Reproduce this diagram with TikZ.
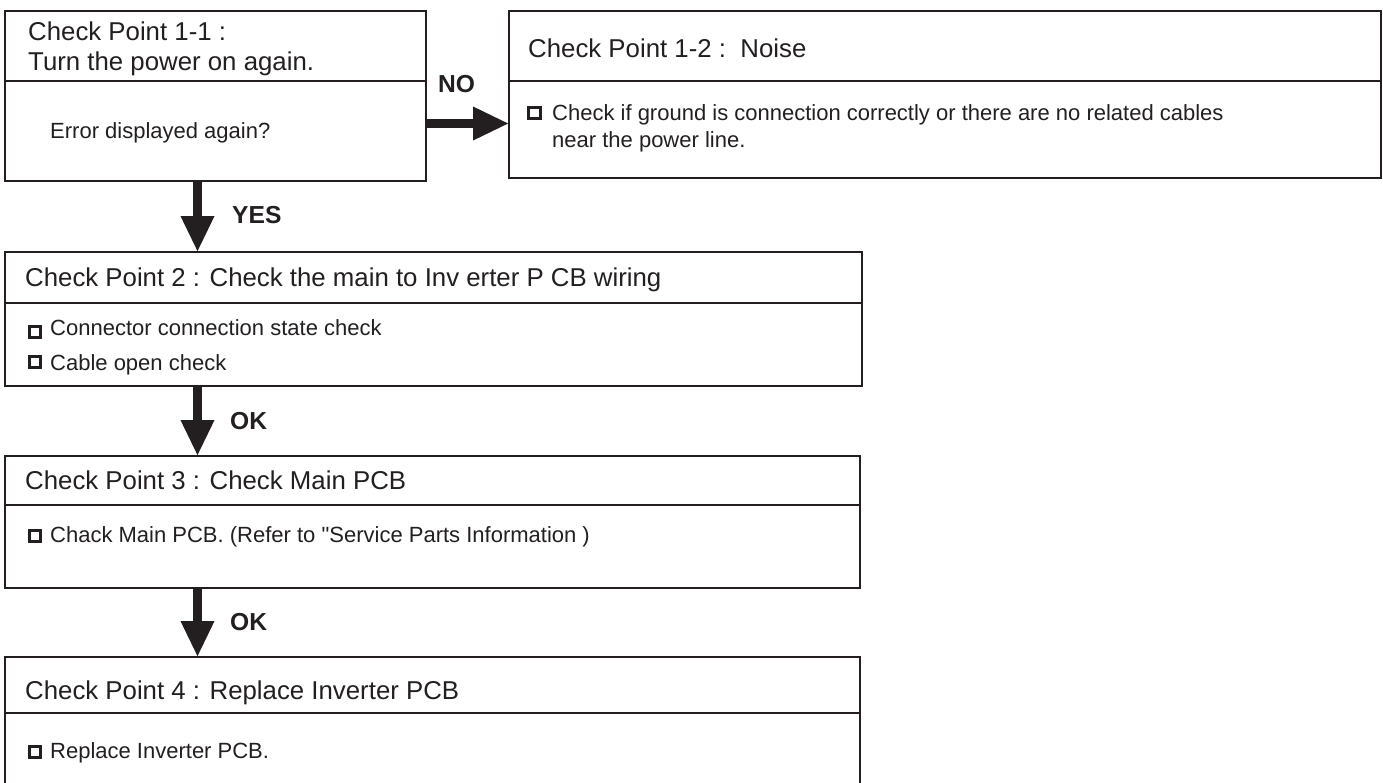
\documentclass[tikz,border=0pt]{standalone}
\usepackage{fontspec}
\setmainfont{Liberation Sans}[Ligatures=TeXOff]
\usetikzlibrary{arrows.meta}
\definecolor{ink}{HTML}{231F20}
\tikzset{
  box/.style={draw=ink, line width=1.8pt, rectangle, inner sep=0pt},
  divider/.style={draw=ink, line width=1.8pt},
  head/.style={anchor=base west, inner sep=0pt, text=ink, font=\fontsize{25.8}{30}\selectfont},
  body/.style={anchor=base west, inner sep=0pt, text=ink, font=\fontsize{22}{26}\selectfont},
  lab/.style={anchor=base west, inner sep=0pt, text=ink, font=\fontsize{24.6}{28}\selectfont\bfseries},
  chk/.style={draw=ink, line width=3pt, rectangle, minimum width=11.5pt, minimum height=11pt, inner sep=0pt},
  flow/.style={draw=ink, line width=8.5pt, -{Triangle[length=35pt, width=34pt, line width=0pt]}, color=ink}
}
\begin{document}
\begin{tikzpicture}[x=1pt, y=-1pt]
\useasboundingbox (0,0) rectangle (1383,782);
% boxes
\node[box, minimum width=421pt, minimum height=170pt] (b1) at (215.5,96) {};
\node[box, minimum width=872pt, minimum height=167pt] (b12) at (945,94.5) {};
\node[box, minimum width=857pt, minimum height=134pt] (b2) at (433.5,319) {};
\node[box, minimum width=855pt, minimum height=132pt] (b3) at (432.5,522) {};
\node[box, minimum width=855pt, minimum height=140pt] (b4) at (432.5,727) {};
% dividers
\coordinate (d1) at (0,81);
\coordinate (d2) at (0,303);
\coordinate (d3) at (0,505);
\coordinate (d4) at (0,713);
\draw[divider] (b1.west |- d1) -- (b1.east |- d1);
\draw[divider] (b12.west |- d1) -- (b12.east |- d1);
\draw[divider] (b2.west |- d2) -- (b2.east |- d2);
\draw[divider] (b3.west |- d3) -- (b3.east |- d3);
\draw[divider] (b4.west |- d4) -- (b4.east |- d4);
% box 1
\node[head] (t1a) at (28,40) {Check Point 1-1 :};
\node[head] (t1b) at (28,70) {Turn the power on again.};
\node[body] (t1c) at (50,138) {Error displayed again?};
% box 1-2
\node[head] (t12a) at (528,57) {Check Point 1-2 :~~Noise};
\node[chk] (c12) at (534.5,113) {};
\node[body] (t12b) at (552,120) {Check if ground is connection correctly or there are no related cables};
\node[body] (t12c) at (552,147) {near the power line.};
% box 2
\node[head] (t2a) at (25,286) {Check Point 2 : Check the main to Inv erter P CB wiring};
\node[chk] (c2a) at (35,332) {};
\node[body] (t2b) at (50,335) {Connector connection state check};
\node[chk] (c2b) at (35,362) {};
\node[body] (t2c) at (50,370) {Cable open check};
% box 3
\node[head] (t3a) at (25,489) {Check Point 3 : Check Main PCB};
\node[chk] (c3) at (35,536) {};
\node[body] (t3b) at (50,542) {Chack Main PCB. (Refer to "Service Parts Information )};
% box 4
\node[head] (t4a) at (25,699) {Check Point 4 : Replace Inverter PCB};
\node[chk] (c4) at (35,752) {};
\node[body] (t4b) at (50,758) {Replace Inverter PCB.};
% connectors
\coordinate (ny) at (0,123.5);
\coordinate (ax) at (197.5,0);
\draw[flow] (b1.east |- ny) -- (b12.west |- ny);
\draw[flow] (b1.south -| ax) -- (b2.north -| ax);
\draw[flow] (b2.south -| ax) -- (b3.north -| ax);
\draw[flow] (b3.south -| ax) -- (b4.north -| ax);
% labels
\node[lab] (lno) at (438,92) {NO};
\node[lab] (lyes) at (232,223) {YES};
\node[lab] (lok1) at (230,429) {OK};
\node[lab] (lok2) at (230,630) {OK};
\end{tikzpicture}
\end{document}
